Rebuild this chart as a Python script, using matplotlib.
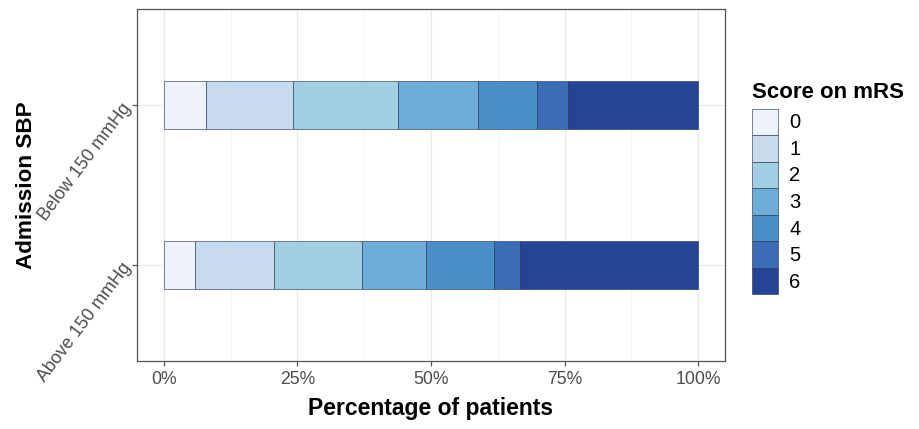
import numpy as np
import matplotlib
matplotlib.use('Agg')
import matplotlib.pyplot as plt
from matplotlib.ticker import FuncFormatter

plt.rcParams['font.family'] = ['Liberation Sans', 'DejaVu Sans']

# data (percent of patients per mRS score)
groups = ['Above 150 mmHg', 'Below 150 mmHg']
scores = ['0', '1', '2', '3', '4', '5', '6']
above_150 = [5.9, 14.8, 16.4, 12.0, 12.6, 5.0, 33.3]
below_150 = [7.9, 16.2, 19.8, 14.8, 11.1, 5.8, 24.4]
colors = ['#eef2f9', '#c8dbee', '#a2cee2', '#6dadd8', '#4b8fc8', '#3a6db6', '#264496']

W, H = 920, 429
fig = plt.figure(figsize=(W / 100, H / 100), dpi=100)
ax = fig.add_axes([137 / W, 68 / H, 588 / W, 352 / H])

vals = np.array([above_150, below_150])
vals = vals / vals.sum(axis=1, keepdims=True) * 100
ypos = np.arange(1, len(groups) + 1)
left = np.zeros(len(groups))
handles = []
for i, s in enumerate(scores):
    b = ax.barh(ypos, vals[:, i], left=left, height=0.3, color=colors[i],
                edgecolor=(0.15, 0.2, 0.3, 0.6), linewidth=0.7, label=s, zorder=3)
    handles.append(b)
    left += vals[:, i]

ax.set_xlim(-5, 105)
ax.set_ylim(0.4, 2.6)
ax.set_xticks([0, 25, 50, 75, 100])
ax.set_xticks([12.5, 37.5, 62.5, 87.5], minor=True)
ax.xaxis.set_major_formatter(FuncFormatter(lambda v, p: f'{v:.0f}%'))
ax.set_yticks(ypos)
ax.set_yticklabels(groups, rotation=53, ha='right', va='center', rotation_mode='anchor',
                   fontsize=13)

ax.grid(True, which='major', color='#ebebeb', linewidth=1.0, zorder=0)
ax.grid(True, which='minor', axis='x', color='#f3f3f3', linewidth=0.6, zorder=0)
ax.set_axisbelow(True)
for sp in ax.spines.values():
    sp.set_color('#555555')
    sp.set_linewidth(0.9)
ax.tick_params(axis='both', which='major', length=3.5, width=0.9, color='#555555',
               labelcolor='#4d4d4d', pad=3)
ax.tick_params(axis='x', which='major', labelsize=12.7, pad=4)
ax.tick_params(axis='both', which='minor', length=0)

ax.set_xlabel('Percentage of patients', fontsize=16.5, fontweight='bold', labelpad=6)
ax.set_ylabel('Admission SBP', fontsize=16.2, fontweight='bold')
ax.yaxis.set_label_coords(-0.170, 0.5)

leg = ax.legend(handles=handles, title='Score on mRS', loc='upper left',
                bbox_to_anchor=(752 / W, (H - 82) / H), bbox_transform=fig.transFigure,
                frameon=False, fontsize=14.5, handlelength=1.3, handleheight=1.65,
                labelspacing=0, handletextpad=0.55, borderpad=0, borderaxespad=0,
                alignment='left', title_fontproperties={'weight': 'bold', 'size': 16})
leg._legend_box.sep = 4

fig.savefig('out.png', dpi=100)
